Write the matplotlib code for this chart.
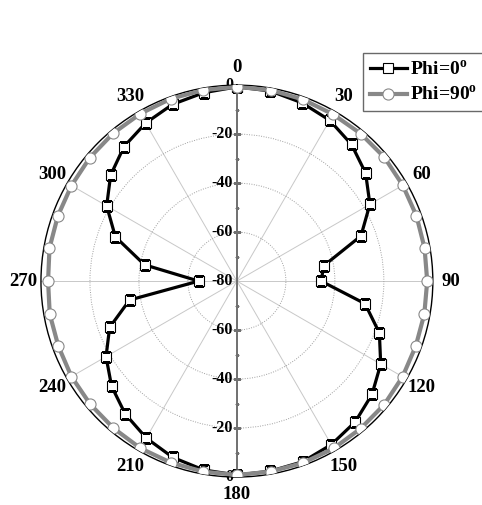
import numpy as np
import matplotlib
matplotlib.use("Agg")
import matplotlib.pyplot as plt
from matplotlib.transforms import offset_copy

plt.rcParams["font.family"] = "Liberation Serif"
plt.rcParams["font.weight"] = "bold"
plt.rcParams["mathtext.fontset"] = "custom"
plt.rcParams["mathtext.rm"] = "Liberation Serif:bold"
plt.rcParams["mathtext.bf"] = "Liberation Serif:bold"

# angles in degrees, 10 deg steps
angles_deg = list(range(0, 360, 10))

# Phi = 0 cut (dB)
phi0 = [-0.7, -1.2, -2.5, -4.2, -7.2, -11.4, -17.3, -26.1, -44.0, -45.6,
        -26.9, -18.1, -12.2, -8.0, -4.9, -2.9, -1.5, -1.2, -0.8, -1.7,
        -3.4, -6.0, -9.1, -13.2, -18.3, -24.7, -35.5, -64.4, -41.7, -27.2,
        -18.6, -12.7, -8.3, -5.5, -3.2, -1.9]

# Phi = 90 cut (dB)
phi90 = [-0.7, -0.8, -1.1, -1.4, -1.4, -1.4, -1.8, -2.0, -2.2, -2.3,
         -2.3, -2.3, -1.9, -1.5, -1.4, -1.1, -1.0, -1.0, -0.8, -1.0,
         -1.1, -1.2, -1.6, -1.8, -2.0, -2.4, -2.4, -2.9, -2.3, -2.2,
         -2.0, -1.6, -1.3, -1.1, -0.8, -0.8]

angle_labels = ["0", "30", "60", "90", "120", "150",
                "180", "210", "240", "270", "300", "330"]
r_top_labels = ["0", "-20", "-40", "-60", "-80"]
r_top_values = [0, -20, -40, -60, -80]
r_bot_labels = ["-60", "-40", "-20", "0"]
r_bot_values = [-60, -40, -20, 0]

fig = plt.figure(figsize=(4.82, 5.05), dpi=100)
ax = fig.add_axes([0.085, 0.0554, 0.813, 0.776], projection="polar")
ax.set_theta_zero_location("N")
ax.set_theta_direction(-1)
ax.set_rlim(-80, 0)

# grid: solid spokes, dotted circles
ax.set_xticks(np.radians(np.arange(0, 360, 30)))
ax.set_xticklabels([])
ax.set_yticks([-60, -40, -20])
ax.set_yticklabels([])
ax.xaxis.grid(True, color="#c8c8c8", linestyle="-", linewidth=0.7)
ax.yaxis.grid(True, color="#a0a0a0", linestyle=(0, (1, 1.5)), linewidth=0.7)
ax.spines["polar"].set_color("black")
ax.spines["polar"].set_linewidth(1.0)

# vertical radial axis with small ticks
ax.plot([0, 0], [-80, 0], color="#707070", lw=1.4, zorder=3)
ax.plot([np.pi, np.pi], [-80, 0], color="#707070", lw=1.4, zorder=3)
for th in (0, np.pi):
    for rv in range(-70, 0, 10):
        size = 6 if rv % 20 == 0 else 3.5
        ax.plot([th], [rv], marker="_", markersize=size,
                color="#707070", mew=0.8, zorder=3)

# data
th = np.radians(angles_deg + [360])
ax.plot(th, phi0 + phi0[:1], color="black", lw=2.3, marker="s",
        markersize=7.5, markerfacecolor="white", markeredgecolor="black",
        markeredgewidth=0.8, label="Phi=0$^\\mathrm{o}$", zorder=5)
ax.plot(th, phi90 + phi90[:1], color="#888888", lw=3.0, marker="o",
        markersize=8, markerfacecolor="white", markeredgecolor="#888888",
        markeredgewidth=0.8, label="Phi=90$^\\mathrm{o}$", zorder=6)

# angle labels
for i, lab in enumerate(angle_labels):
    ax.text(np.radians(i * 30), 7.2, lab, ha="center", va="center",
            fontsize=13.5, fontweight="bold", clip_on=False)

# radial labels
lab_tr = offset_copy(ax.transData, fig=fig, x=-4, y=0, units="dots")
for lab, rv in zip(r_top_labels, r_top_values):
    ax.text(0, rv, lab, ha="right", va="center", fontsize=11.5,
            fontweight="bold", transform=lab_tr, zorder=4)
for lab, rv in zip(r_bot_labels, r_bot_values):
    ax.text(np.pi, rv, lab, ha="right", va="center", fontsize=11.5,
            fontweight="bold", transform=lab_tr, zorder=4)

leg = fig.legend(loc="upper left", bbox_to_anchor=(363 / 482, 1 - 53 / 505),
                 fontsize=14, frameon=True, fancybox=False, handlelength=1.9,
                 handletextpad=0.15, borderpad=0.35, labelspacing=0.3,
                 borderaxespad=0)
leg.get_frame().set_edgecolor("#444444")
leg.get_frame().set_linewidth(1.0)

fig.savefig("out.png", dpi=100, facecolor="white")
